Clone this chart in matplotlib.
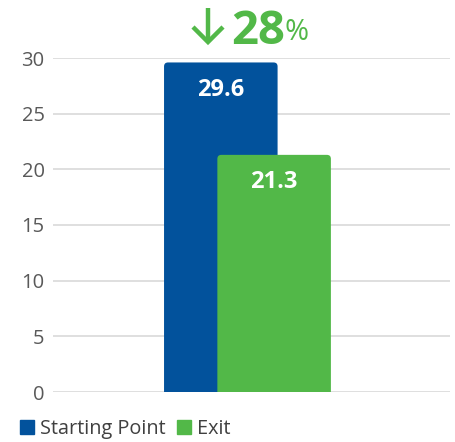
import matplotlib
matplotlib.use("Agg")
import matplotlib.pyplot as plt
from matplotlib.patches import FancyBboxPatch
from matplotlib.lines import Line2D

series = ["Starting Point", "Exit"]
values = [29.6, 21.3]
colors = ["#02529c", "#52b848"]
yticks = [0, 5, 10, 15, 20, 25, 30]
change_label = "28"

plt.rcParams['font.family'] = ['Open Sans', 'DejaVu Sans']

W, H = 456, 442
fig = plt.figure(figsize=(W / 100, H / 100), dpi=100)
fig.patch.set_facecolor('white')

# axes box in pixels: x 53..450, y 58..392 (from top)
ax = fig.add_axes([53 / W, 1 - 392 / H, (450 - 53) / W, (392 - 58) / H])
ax.set_xlim(0, 1)
ax.set_ylim(0, 30)

for s in ax.spines.values():
    s.set_visible(False)
ax.set_yticks(yticks)
ax.set_yticklabels([str(t) for t in yticks])
ax.tick_params(axis='y', length=0, pad=6, labelsize=14.5, labelcolor='#595959')
ax.tick_params(axis='x', length=0, labelbottom=False)
ax.grid(axis='y', color='#d9d9d9', linewidth=1.2)
ax.set_axisbelow(True)

centers = [0.4227, 0.557]
width = 0.286
bars = ax.bar(centers, values, width=width, color=colors)

# rounded top corners
px_x = 1 / 397
px_y = 30 / 334
for b, c, v in zip(bars, colors, values):
    b.set_visible(False)
    patch = FancyBboxPatch((b.get_x(), -2), b.get_width(), v + 2,
                           boxstyle="round,pad=0,rounding_size=%f" % (4 * px_x),
                           mutation_aspect=px_y / px_x,
                           facecolor=c, edgecolor='none', zorder=3)
    ax.add_patch(patch)
    ax.annotate(f"{v:.1f}", (b.get_x() + b.get_width() / 2, v),
                xytext=(0, -19.5), textcoords='offset points',
                ha='center', va='center', color='white',
                fontsize=17, fontweight='bold', zorder=4)

# headline: down arrow + 28%
green = colors[1]
def fx(p):
    return p / W
def fy(p):
    return 1 - p / H
fig.add_artist(Line2D([fx(208), fx(208)], [fy(8), fy(41)], color=green,
                      linewidth=3.2, solid_capstyle='butt'))
fig.add_artist(Line2D([fx(193), fx(208), fx(223)], [fy(27), fy(42), fy(27)],
                      color=green, linewidth=3.2, solid_joinstyle='miter',
                      solid_capstyle='butt'))
fig.text(fx(231), fy(44), change_label, color=green, fontsize=34,
         fontweight='bold', ha='left', va='baseline')
fig.text(fx(285), fy(40), "%", color=green, fontsize=21,
         ha='left', va='baseline')

# legend
handles = [Line2D([], [], marker='s', linestyle='none', markersize=9.5,
                  markerfacecolor=c, markeredgecolor=c) for c in colors]
fig.legend(handles, series, loc='lower left', bbox_to_anchor=(0.018, -0.02),
           ncol=2, frameon=False, fontsize=14.3, labelcolor='#404040',
           handlelength=0.7, handletextpad=0.3, columnspacing=0.6,
           borderaxespad=0.2)

plt.savefig("out.png", dpi=100, facecolor='white')
plt.close()
